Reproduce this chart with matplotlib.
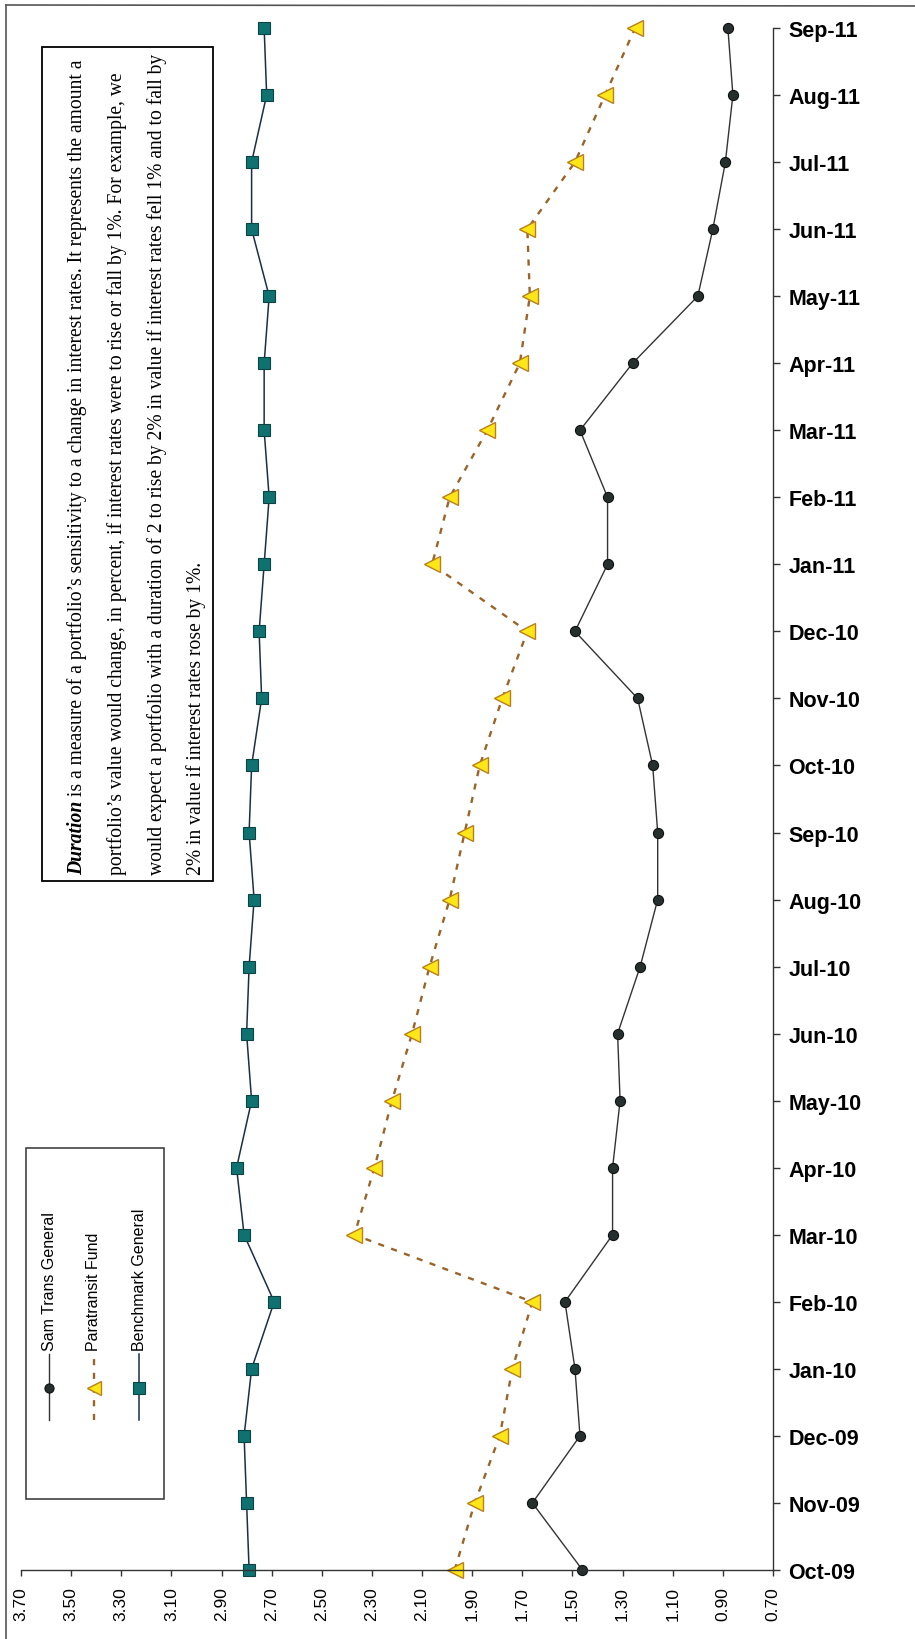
import numpy as np
import matplotlib.pyplot as plt
from matplotlib.lines import Line2D
from matplotlib.patches import Rectangle

W, H = 915, 1640

months = ["Oct-09", "Nov-09", "Dec-09", "Jan-10", "Feb-10", "Mar-10", "Apr-10",
          "May-10", "Jun-10", "Jul-10", "Aug-10", "Sep-10", "Oct-10", "Nov-10",
          "Dec-10", "Jan-11", "Feb-11", "Mar-11", "Apr-11", "May-11", "Jun-11",
          "Jul-11", "Aug-11", "Sep-11"]

sam_trans = [1.46, 1.66, 1.47, 1.49, 1.53, 1.34, 1.34, 1.31, 1.32, 1.23, 1.16, 1.16,
             1.18, 1.24, 1.49, 1.36, 1.36, 1.47, 1.26, 1.00, 0.94, 0.89, 0.86, 0.88]
paratransit = [1.97, 1.89, 1.79, 1.74, 1.66, 2.37, 2.29, 2.22, 2.14, 2.07, 1.99, 1.93,
               1.87, 1.78, 1.68, 2.06, 1.99, 1.84, 1.71, 1.67, 1.68, 1.49, 1.37, 1.25]
benchmark = [2.79, 2.80, 2.81, 2.78, 2.69, 2.81, 2.84, 2.78, 2.80, 2.79, 2.77, 2.79,
             2.78, 2.74, 2.75, 2.73, 2.71, 2.73, 2.73, 2.71, 2.78, 2.78, 2.72, 2.73]

value_ticks = np.arange(0.70, 3.71, 0.20)

note_lines = [
    ("Duration", " is a measure of a portfolio\u2019s sensitivity to a change in interest rates. It represents the amount a"),
    ("", "portfolio\u2019s value would change, in percent, if interest rates were to rise or fall by 1%. For example, we"),
    ("", "would expect a portfolio with a duration of 2 to rise by 2% in value if interest rates fell 1% and to fall by"),
    ("", "2% in value if interest rates rose by 1%."),
]

sam_style = dict(color="#333333", lw=1.0, marker="o", ms=7.3,
                 mfc="#25302e", mec="#111111", mew=0.8)
para_style = dict(color="#9a6428", lw=1.7, dashes=(2.6, 3.2), marker="<", ms=11,
                  mfc="#ffe617", mec="#b8801c", mew=1.0)
bench_style = dict(color="#1b2f44", lw=1.1, marker="s", ms=9.2,
                   mfc="#0f7270", mec="#0b4442", mew=0.8)


def fx(px):
    return px / W


def fy(py):
    return 1 - py / H


fig = plt.figure(figsize=(W / 100, H / 100), dpi=100)

# chart border (only the top and left edges fall inside the page)
fig.add_artist(Line2D([fx(6), fx(6)], [fy(6), 0], color="#555555", lw=1.2))
fig.add_artist(Line2D([fx(6), 1], [fy(6), fy(7)], color="#555555", lw=1.2))

ax = fig.add_axes([fx(21), fy(1571), (773 - 21) / W, (1571 - 29) / H])
ax.patch.set_alpha(0)
rows = np.arange(len(months))

ax.plot(benchmark, rows, clip_on=False, **bench_style)
ax.plot(paratransit, rows, clip_on=False, **para_style)
ax.plot(sam_trans, rows, clip_on=False, **sam_style)

ax.set_xlim(3.70, 0.70)
ax.set_ylim(0, len(months) - 1)
ax.set_xticks(value_ticks)
ax.set_xticklabels([f"{v:.2f}" for v in value_ticks], rotation=90,
                   family="Liberation Sans", fontsize=12.5)
ax.set_yticks(rows)
ax.set_yticklabels(months, family="Liberation Sans", weight="bold", fontsize=15.5)
ax.yaxis.tick_right()
for s in ("top", "left"):
    ax.spines[s].set_visible(False)
for s in ("bottom", "right"):
    ax.spines[s].set_color("#333333")
    ax.spines[s].set_linewidth(1.0)
ax.tick_params(axis="x", direction="out", length=4.5, width=1.0, pad=7, colors="#333333")
ax.tick_params(axis="x", labelcolor="black")
ax.tick_params(axis="y", direction="out", length=5, width=1.0, pad=6, colors="#333333")
ax.tick_params(axis="y", labelcolor="black")

# note box
fig.add_artist(Rectangle((fx(42), fy(882)), (213 - 42) / W, (882 - 48) / H,
                         transform=fig.transFigure, fill=False, ec="black", lw=1.3))
renderer = fig.canvas.get_renderer()
baselines = [82, 122, 162, 201]
for (bold_part, rest), bx in zip(note_lines, baselines):
    y0 = fy(875)
    if bold_part:
        t = fig.text(fx(bx), y0, bold_part, rotation=90, rotation_mode="anchor",
                     ha="left", va="baseline", family="Liberation Serif",
                     weight="bold", style="italic", fontsize=14.1)
        y0 = t.get_window_extent(renderer).y1 / H
    fig.text(fx(bx), y0, rest, rotation=90, rotation_mode="anchor",
             ha="left", va="baseline", family="Liberation Serif", fontsize=14.1)

# legend, drawn upright along the page
fig.add_artist(Rectangle((fx(26), fy(1500)), (164 - 26) / W, (1500 - 1149) / H,
                         transform=fig.transFigure, fill=False, ec="#333333", lw=1.1))
legend_items = [("Sam Trans General", sam_style, 49),
                ("Paratransit Fund", para_style, 94),
                ("Benchmark General", bench_style, 139)]
for label, style, lx in legend_items:
    line_kw = {k: v for k, v in style.items() if not k.startswith("m")}
    fig.add_artist(Line2D([fx(lx), fx(lx)], [fy(1421), fy(1355)], **line_kw))
    fig.add_artist(Line2D([fx(lx)], [fy(1389)], linestyle="none",
                          marker=style["marker"], ms=style["ms"] * 0.9,
                          mfc=style["mfc"], mec=style["mec"], mew=style["mew"]))
    fig.text(fx(lx), fy(1351), label, rotation=90, rotation_mode="anchor",
             ha="left", va="center", family="Liberation Sans", fontsize=11.5)

fig.savefig("out.png", dpi=100)
